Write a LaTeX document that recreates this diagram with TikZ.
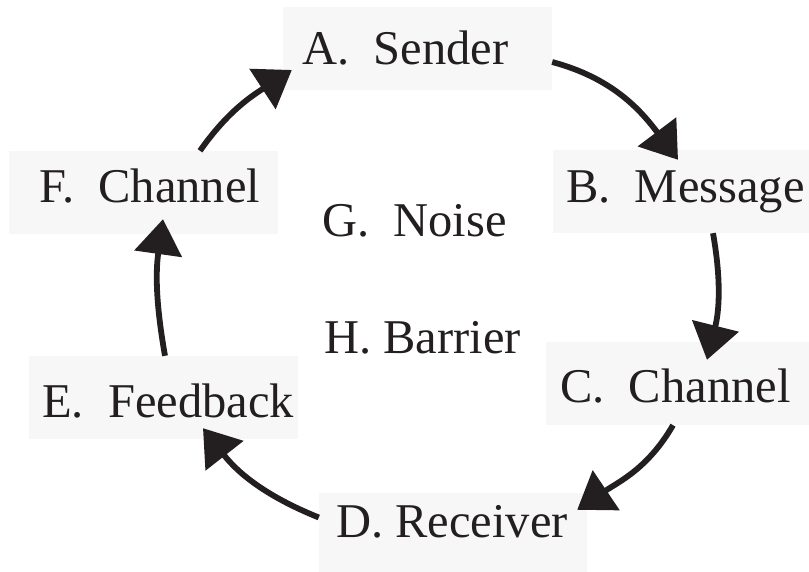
\documentclass[tikz,border=0pt]{standalone}
\usepackage{fontspec}
\setmainfont{Liberation Serif}
\usetikzlibrary{arrows.meta}
\definecolor{boxfill}{HTML}{F7F7F7}
\definecolor{ink}{HTML}{231F20}
\begin{document}
\begin{tikzpicture}[x=1pt,y=1pt,
  box/.style={fill=boxfill,draw=none,inner sep=0pt,minimum width=269pt,minimum height=83pt},
  txt/.style={inner sep=0pt,anchor=base west,text=ink,font=\fontsize{48.5}{50}\selectfont},
  arr/.style={draw=ink,line width=5.8pt,-{Triangle[length=35pt,width=47pt]}}]
\useasboundingbox (0,0) rectangle (809,-572);
% boxes
\node[box] (A) at (417.5,-48.5) {};
\node[box,minimum width=256pt] (B) at (681,-191.5) {};
\node[box,minimum width=263pt] (C) at (677.5,-383.5) {};
\node[box,minimum width=268pt,minimum height=79pt] (D) at (453,-532.5) {};
\node[box] (E) at (163.5,-397.5) {};
\node[box] (F) at (143.5,-192.5) {};
% texts
\node[txt] (At) at (302,-65) {A.~~Sender};
\node[txt] (Bt) at (566,-203) {B.~~Message};
\node[txt] (Ct) at (560,-402) {C.~~Channel};
\node[txt] (Dt) at (336,-537) {D. Receiver};
\node[txt] (Et) at (42,-417) {E.~~Feedback};
\node[txt] (Ft) at (39,-203) {F.~~Channel};
\node[txt] (G) at (322,-237) {G.~~Noise};
\node[txt] (H) at (324,-353) {H. Barrier};
% arrow tip points
\coordinate (tB) at ([shift={(-3,-10)}]B.north);
\coordinate (tC) at ([shift={(29.5,-18)}]C.north);
\coordinate (tD) at ([shift={(-10,-17)}]D.north east);
\coordinate (tE) at ([shift={(39.5,11)}]E.south);
\coordinate (tF) at ([shift={(19.5,15)}]F.south);
\coordinate (tA) at ([shift={(9,-21.5)}]A.west);
% connectors
\draw[arr] ([yshift=-13.5pt]A.east) to[out=-15,in=127] (tB);
\draw[arr] ([xshift=32pt]B.south) to[out=-80,in=76] (tC);
\draw[arr] ([xshift=-4.5pt]C.south) to[out=-120,in=34] (tD);
\draw[arr] ([yshift=15pt]D.west) to[out=158,in=-52] (tE);
\draw[arr] ([xshift=1.5pt]E.north) to[out=100,in=-98] (tF);
\draw[arr] ([xshift=56.5pt]F.north) to[out=55,in=213] (tA);
\end{tikzpicture}
\end{document}
